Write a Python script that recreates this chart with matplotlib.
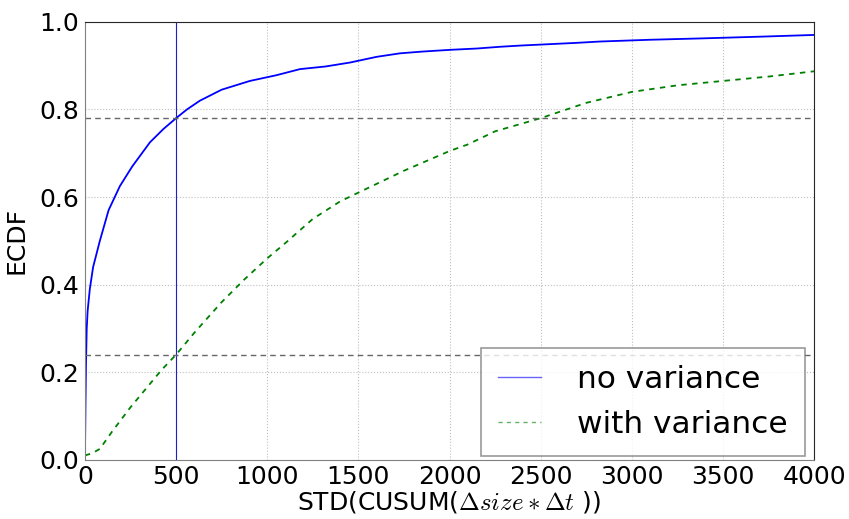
# ECDF of STD(CUSUM) for two runs, with reference lines at x=500
import matplotlib
matplotlib.use("Agg")
import matplotlib.pyplot as plt
import numpy as np

plt.rcParams['mathtext.fontset'] = 'cm'
plt.rcParams['font.family'] = 'DejaVu Sans'

# values
no_var_x = [0, 3, 6, 10, 15, 27, 45, 82, 130, 192, 260, 357, 430, 500, 560, 631,
            750, 905, 1050, 1180, 1320, 1454, 1600, 1728, 1850, 2003, 2150, 2277,
            2400, 2551, 2700, 2826, 3100, 3374, 3700, 4000]
no_var_y = [0.0, 0.12, 0.22, 0.30, 0.34, 0.39, 0.44, 0.50, 0.57, 0.625, 0.67, 0.725,
            0.755, 0.78, 0.80, 0.82, 0.845, 0.865, 0.878, 0.892, 0.898, 0.907,
            0.92, 0.928, 0.932, 0.936, 0.939, 0.943, 0.946, 0.949, 0.952, 0.955,
            0.959, 0.962, 0.966, 0.970]

var_x = [0, 40, 82, 150, 250, 350, 420, 500, 600, 750, 870, 1000, 1100, 1250, 1400,
         1500, 1750, 2000, 2100, 2250, 2500, 2750, 3000, 3250, 3500, 3750, 4000]
var_y = [0.01, 0.015, 0.025, 0.065, 0.12, 0.17, 0.205, 0.24, 0.29, 0.36, 0.41,
         0.46, 0.495, 0.55, 0.59, 0.61, 0.66, 0.705, 0.72, 0.75, 0.78, 0.815,
         0.84, 0.855, 0.865, 0.875, 0.887]

x_cut = 500
y_cut_no_var = 0.78
y_cut_var = 0.24

fig = plt.figure(figsize=(8.49, 5.19), dpi=100)
ax = fig.add_axes([0.100, 0.114, 0.859, 0.844])

ax.plot(no_var_x, no_var_y, color='b', lw=1.3, label='no variance')
ax.plot(var_x, var_y, color='g', lw=1.3, ls='--', dashes=(3, 3), label='with variance')

ax.axvline(x_cut, color='#2020c0', lw=0.8)
ax.axhline(y_cut_no_var, color='0.4', lw=1.0, ls='--', dashes=(4, 3))
ax.axhline(y_cut_var, color='0.4', lw=1.0, ls='--', dashes=(4, 3))

ax.set_xlim(0, 4000)
ax.set_ylim(0, 1.0)
ax.set_xticks(np.arange(0, 4001, 500))
ax.set_yticks(np.arange(0, 1.01, 0.2))
ax.grid(True, color='0.75', ls=':', lw=0.8)
ax.tick_params(labelsize=18, length=0, pad=4)

for s in ['left', 'bottom']:
    ax.spines[s].set_color('0.5')
for s in ['top', 'right']:
    ax.spines[s].set_color('0.15')

ax.set_xlabel(r'STD(CUSUM($\Delta size*\Delta t$ ))', fontsize=18, labelpad=0)
ax.set_ylabel('ECDF', fontsize=18, labelpad=8)

leg = ax.legend(loc='lower right', bbox_to_anchor=(0.9877, 0.009), borderaxespad=0,
                fontsize=22.5, handlelength=1.4, handletextpad=1.15,
                borderpad=0.55, labelspacing=0.5, fancybox=False)
leg.get_frame().set_edgecolor('0.5')
leg.get_frame().set_linewidth(1.2)
for h in leg.get_lines():
    h.set_alpha(0.6)
    h.set_linewidth(1.0)

plt.savefig('out.png', dpi=100)
